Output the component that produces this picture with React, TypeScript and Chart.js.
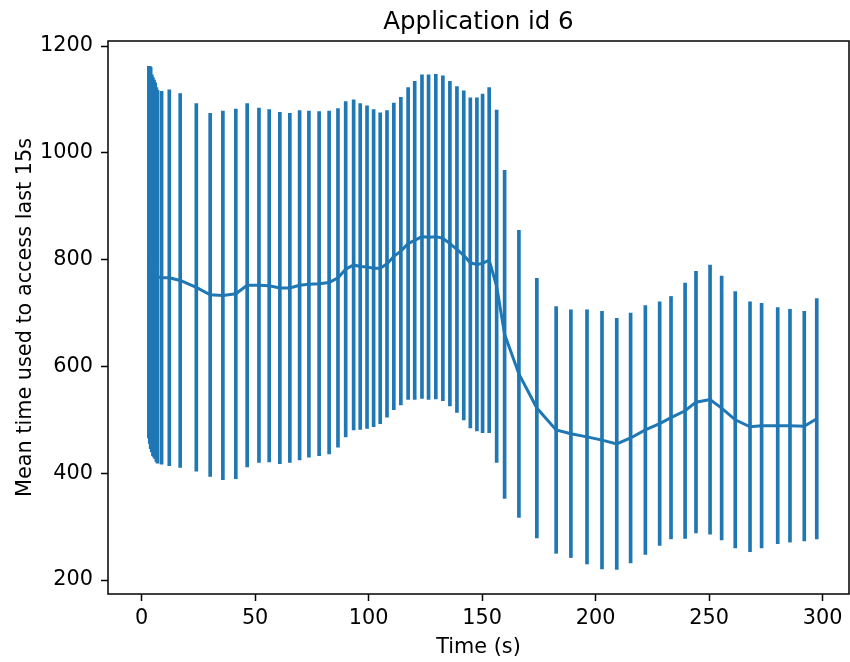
import React, { useEffect, useRef } from "react";
import { Chart, registerables } from "chart.js";

Chart.register(...registerables);

const TITLE = "Application id 6";
const X_LABEL = "Time (s)";
const Y_LABEL = "Mean time used to access last 15s";
const X_TICKS = [0, 50, 100, 150, 200, 250, 300];
const Y_TICKS = [200, 400, 600, 800, 1000, 1200];

const TIMES = [
  3.2, 3.6, 4.0, 4.5, 5.0, 5.5, 6.0, 6.5, 7.0, 8.8, 12.2, 17.0, 24.1, 30.2, 35.8, 41.5,
  46.5, 51.7, 56.2, 60.9, 65.3, 69.6, 73.7, 78.2, 82.6, 86.5, 89.9, 93.4, 96.3, 99.3,
  102.2, 105.1, 108.1, 111.1, 114.2, 117.4, 120.3, 123.5, 126.4, 129.6, 132.7, 135.8,
  138.9, 141.9, 144.8, 147.7, 150.2, 153.1, 156.4, 159.9, 166.2, 174.1, 182.6, 189.1,
  196.2, 202.8, 209.3, 215.4, 221.9, 228.2, 233.2, 239.4, 244.2, 250.4, 255.5, 261.5,
  268.0, 273.1, 280.2, 285.6, 291.9, 297.4,
];

const MEANS = [
  814, 809, 803, 793, 787, 783, 779, 772, 768, 766, 766, 761, 748, 734, 733, 736,
  752, 752, 751, 747, 747, 752, 754, 755, 757, 766, 782, 790, 787, 786,
  784, 784, 792, 806, 816, 830, 836, 843, 842, 843, 840, 830,
  819, 808, 794, 791, 793, 799, 750, 660, 586, 522, 481, 474,
  468, 462, 455, 466, 481, 493, 504, 517, 533, 538, 522, 500,
  487, 489, 489, 489, 488, 502,
];

const ERRORS = [
  348, 353, 357, 353, 354, 353, 352, 350, 349, 349, 352, 350, 344, 340, 345, 346,
  340, 332, 330, 329, 327, 327, 324, 322, 321, 317, 314, 309, 305, 302,
  297, 291, 287, 287, 288, 292, 298, 303, 304, 304, 304, 304,
  305, 308, 309, 312, 317, 323, 330, 307, 269, 243, 231, 232,
  238, 241, 235, 234, 233, 228, 227, 239, 245, 252, 247, 240,
  234, 229, 221, 218, 215, 225,
];

const COLOR = "#1f77b4";
const FONT = '"DejaVu Sans"';

export default function App() {
  const ref = useRef<HTMLCanvasElement>(null);

  useEffect(() => {
    document.body.style.margin = "0";
    const canvas = ref.current;
    if (!canvas) return;

    const textPlugin = {
      id: "mplText",
      afterDraw(chart: any) {
        const { ctx, chartArea: a } = chart;
        ctx.save();
        ctx.strokeStyle = "#000";
        ctx.lineWidth = 1.5;
        ctx.strokeRect(a.left, a.top, a.right - a.left, a.bottom - a.top);
        ctx.fillStyle = "#000";
        ctx.textAlign = "center";
        ctx.textBaseline = "alphabetic";
        ctx.font = `24.5px ${FONT}`;
        ctx.fillText(TITLE, (a.left + a.right) / 2, 28.5);
        ctx.font = `20.8px ${FONT}`;
        ctx.fillText(X_LABEL, (a.left + a.right) / 2, 653);
        ctx.translate(31, (a.top + a.bottom) / 2);
        ctx.rotate(-Math.PI / 2);
        ctx.fillText(Y_LABEL, 0, 0);
        ctx.restore();
      },
    };

    const gridOpts = {
      display: true,
      drawOnChartArea: false,
      drawTicks: true,
      tickLength: 7,
      tickWidth: 1.5,
      tickColor: "#000",
      offset: false,
    };

    const plain = (v: any) => String(v);

    const chart = new Chart(canvas, {
      type: "bar",
      data: {
        datasets: [
          {
            type: "line",
            data: TIMES.map((t, i) => ({ x: t, y: MEANS[i] })),
            borderColor: COLOR,
            backgroundColor: COLOR,
            borderWidth: 3,
            pointRadius: 0,
            tension: 0,
            fill: false,
            order: 0,
          },
          {
            type: "bar",
            data: TIMES.map((t, i) => ({ x: t, y: [MEANS[i] - ERRORS[i], MEANS[i] + ERRORS[i]] })),
            backgroundColor: COLOR,
            borderWidth: 0,
            barThickness: 3,
            order: 1,
          },
        ] as any,
      },
      options: {
        responsive: false,
        animation: false,
        events: [],
        layout: { padding: { top: 41, right: 1, left: 0, bottom: 0 } },
        plugins: {
          legend: { display: false },
          tooltip: { enabled: false },
          title: { display: false },
        },
        scales: {
          x: {
            type: "linear",
            min: -14.8,
            max: 311.6,
            offset: false,
            afterFit: (s: any) => {
              s.height = 68;
            },
            afterBuildTicks: (s: any) => {
              s.ticks = X_TICKS.map((v) => ({ value: v }));
            },
            grid: gridOpts,
            border: { display: false },
            ticks: {
              font: { family: "DejaVu Sans", size: 20.8 },
              color: "#000",
              padding: 5,
              maxRotation: 0,
              autoSkip: false,
              callback: plain,
            },
          },
          y: {
            type: "linear",
            min: 173.8,
            max: 1209.4,
            afterFit: (s: any) => {
              s.width = 108;
            },
            afterBuildTicks: (s: any) => {
              s.ticks = Y_TICKS.map((v) => ({ value: v }));
            },
            grid: gridOpts,
            border: { display: false },
            ticks: {
              font: { family: "DejaVu Sans", size: 20.8 },
              color: "#000",
              padding: 8,
              autoSkip: false,
              callback: plain,
            },
          },
        },
      } as any,
      plugins: [textPlugin],
    });

    return () => chart.destroy();
  }, []);

  return (
    <div style={{ width: 850, height: 662 }}>
      <canvas ref={ref} width={850} height={662} style={{ display: "block" }} />
    </div>
  );
}
